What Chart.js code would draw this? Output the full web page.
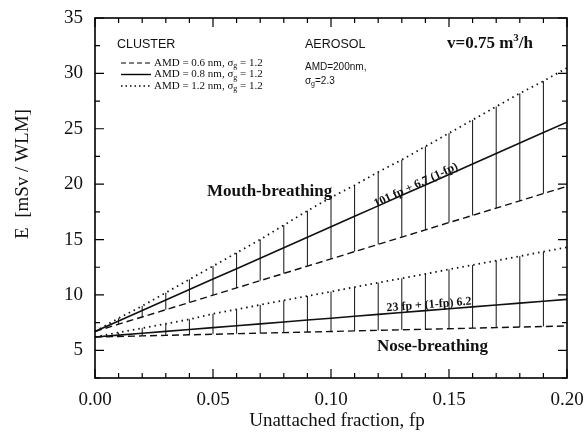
<!DOCTYPE html>
<html>
<head>
<meta charset="utf-8">
<script src="https://cdn.jsdelivr.net/npm/chart.js@4.4.0/dist/chart.umd.min.js"></script>
<style>
  html, body { margin: 0; padding: 0; background: #fff; }
  #wrap { width: 585px; height: 436px; }
</style>
</head>
<body>
<div id="wrap"><canvas id="chart"></canvas></div>
<script>
// unattached fraction fp, steps of 0.01
const fp = [0.00, 0.01, 0.02, 0.03, 0.04, 0.05, 0.06, 0.07, 0.08, 0.09, 0.10,
            0.11, 0.12, 0.13, 0.14, 0.15, 0.16, 0.17, 0.18, 0.19, 0.20];

// mouth-breathing, E in mSv/WLM
const mouthDashed = [6.70, 7.36, 8.01, 8.67, 9.32, 9.98, 10.63, 11.29, 11.94, 12.60, 13.25,
                     13.91, 14.56, 15.22, 15.87, 16.53, 17.18, 17.84, 18.49, 19.15, 19.80];
const mouthSolid  = [6.70, 7.65, 8.59, 9.54, 10.48, 11.43, 12.37, 13.32, 14.26, 15.21, 16.15,
                     17.10, 18.04, 18.99, 19.93, 20.88, 21.82, 22.77, 23.71, 24.66, 25.60];
const mouthDotted = [6.7, 7.9, 9.0, 10.2, 11.4, 12.6, 13.8, 15.0, 16.3, 17.6, 18.8,
                     19.9, 21.1, 22.2, 23.4, 24.6, 25.8, 27.0, 28.2, 29.3, 30.5];

// nose-breathing
const noseDashed = [6.20, 6.25, 6.30, 6.35, 6.40, 6.45, 6.50, 6.55, 6.60, 6.65, 6.70,
                    6.75, 6.80, 6.85, 6.90, 6.95, 7.00, 7.05, 7.10, 7.15, 7.20];
const noseSolid  = [6.20, 6.37, 6.54, 6.71, 6.88, 7.05, 7.22, 7.39, 7.56, 7.73, 7.90,
                    8.07, 8.24, 8.41, 8.58, 8.75, 8.92, 9.09, 9.26, 9.43, 9.60];
const noseDotted = [6.2, 6.6, 7.0, 7.4, 7.8, 8.3, 8.7, 9.1, 9.5, 9.9, 10.3,
                    10.7, 11.1, 11.5, 11.9, 12.3, 12.7, 13.1, 13.5, 13.9, 14.3];

const xTicks = [0.00, 0.05, 0.10, 0.15, 0.20];
const yTicks = [5, 10, 15, 20, 25, 30, 35];

const SERIF = '"Liberation Serif", "DejaVu Serif", serif';
const SANS = '"Liberation Sans", Arial, sans-serif';

function pts(arr) {
    return fp.map((x, i) => ({ x: x, y: arr[i] }));
}

// vertical spread lines between dashed and dotted curves
function spread(lo, hi) {
    const out = [];
    for (let i = 1; i < fp.length - 1; i++) {
        out.push({ x: fp[i], y: lo[i] }, { x: fp[i], y: hi[i] }, { x: fp[i], y: null });
    }
    return out;
}

function lineSet(data, dash, width) {
    return {
        data: data,
        borderColor: '#111',
        borderWidth: width,
        borderDash: dash,
        pointRadius: 0,
        fill: false,
        tension: 0
    };
}

// frame, inward ticks on all four sides, and the text on the plot
const decor = {
    id: 'decor',
    afterDatasetsDraw(chart) {
        const { ctx, chartArea: a, scales: { x, y } } = chart;
        ctx.save();
        ctx.strokeStyle = '#000';
        ctx.lineWidth = 1.6;
        ctx.strokeRect(a.left, a.top, a.right - a.left, a.bottom - a.top);

        ctx.lineWidth = 1.2;
        ctx.beginPath();
        for (let v = 0; v <= 20; v++) {
            const px = x.getPixelForValue(v / 100);
            const len = v % 5 === 0 ? 9 : 5;
            ctx.moveTo(px, a.bottom); ctx.lineTo(px, a.bottom - len);
            ctx.moveTo(px, a.top); ctx.lineTo(px, a.top + len);
        }
        for (let v = 2.5; v <= 35; v += 2.5) {
            const py = y.getPixelForValue(v);
            const len = v % 5 === 0 ? 9 : 5;
            ctx.moveTo(a.left, py); ctx.lineTo(a.left + len, py);
            ctx.moveTo(a.right, py); ctx.lineTo(a.right - len, py);
        }
        ctx.stroke();

        ctx.fillStyle = '#111';
        ctx.textBaseline = 'middle';

        // axis titles
        ctx.textAlign = 'center';
        ctx.font = '19px ' + SERIF;
        ctx.fillText('Unattached fraction, fp', 337, 421);
        ctx.save();
        ctx.translate(23, 174);
        ctx.rotate(-Math.PI / 2);
        ctx.fillText('E  [mSv / WLM]', 0, 0);
        ctx.restore();

        // regime labels
        ctx.font = 'bold 17px ' + SERIF;
        ctx.fillText('Mouth-breathing', x.getPixelForValue(0.074), y.getPixelForValue(19.3));
        ctx.fillText('Nose-breathing', x.getPixelForValue(0.143), y.getPixelForValue(5.3));

        // formulas along the solid lines
        ctx.font = 'bold 12px ' + SERIF;
        ctx.save();
        ctx.translate(x.getPixelForValue(0.136), y.getPixelForValue(19.9));
        ctx.rotate(-25 * Math.PI / 180);
        ctx.fillText('101 fp + 6.7 (1-fp)', 0, 0);
        ctx.restore();
        ctx.save();
        ctx.translate(x.getPixelForValue(0.1415), y.getPixelForValue(9.1));
        ctx.rotate(-4.5 * Math.PI / 180);
        ctx.fillText('23 fp + (1-fp) 6.2', 0, 0);
        ctx.restore();

        // header texts
        ctx.textAlign = 'left';
        ctx.font = '12.5px ' + SANS;
        ctx.fillText('CLUSTER', 117, 45);
        ctx.fillText('AEROSOL', 305, 45);

        ctx.font = '10px ' + SANS;
        ctx.fillText('AMD=200nm,', 305, 67);
        ctx.fillText('\u03c3', 305, 81);
        ctx.font = '7px ' + SANS;
        ctx.fillText('g', 311, 84);
        ctx.font = '10px ' + SANS;
        ctx.fillText('=2.3', 315, 81);

        ctx.font = 'bold 17px ' + SERIF;
        let tx = 447;
        ctx.fillText('v=0.75 m', tx, 44);
        tx += ctx.measureText('v=0.75 m').width;
        ctx.font = 'bold 11px ' + SERIF;
        ctx.fillText('3', tx, 38);
        tx += ctx.measureText('3').width;
        ctx.font = 'bold 17px ' + SERIF;
        ctx.fillText('/h', tx, 44);

        // cluster legend
        const rows = [
            { dash: [5, 3], lw: 1.2, text: 'AMD = 0.6 nm, \u03c3', val: ' = 1.2', y: 63 },
            { dash: [], lw: 1.4, text: 'AMD = 0.8 nm, \u03c3', val: ' = 1.2', y: 74.5 },
            { dash: [1.5, 3], lw: 1.5, text: 'AMD = 1.2 nm, \u03c3', val: ' = 1.2', y: 86 }
        ];
        rows.forEach(r => {
            ctx.setLineDash(r.dash);
            ctx.lineWidth = r.lw;
            ctx.beginPath();
            ctx.moveTo(121, r.y); ctx.lineTo(151, r.y);
            ctx.stroke();
            ctx.setLineDash([]);
            let lx = 154;
            ctx.font = '11px ' + SERIF;
            ctx.fillText(r.text, lx, r.y);
            lx += ctx.measureText(r.text).width;
            ctx.font = '8px ' + SERIF;
            ctx.fillText('g', lx, r.y + 3);
            lx += ctx.measureText('g').width;
            ctx.font = '11px ' + SERIF;
            ctx.fillText(r.val, lx, r.y);
        });
        ctx.restore();
    }
};

new Chart(document.getElementById('chart'), {
    type: 'line',
    data: {
        datasets: [
            lineSet(spread(mouthDashed, mouthDotted), [], 1),
            lineSet(spread(noseDashed, noseDotted), [], 1),
            lineSet(pts(mouthDashed), [7, 4], 1.4),
            lineSet(pts(mouthSolid), [], 1.6),
            lineSet(pts(mouthDotted), [1.5, 4], 1.8),
            lineSet(pts(noseDashed), [7, 4], 1.4),
            lineSet(pts(noseSolid), [], 1.6),
            lineSet(pts(noseDotted), [1.5, 4], 1.8)
        ]
    },
    options: {
        responsive: true,
        maintainAspectRatio: false,
        animation: false,
        layout: { padding: { top: 18, right: 18, left: 0, bottom: 0 } },
        plugins: {
            legend: { display: false },
            tooltip: { enabled: false }
        },
        scales: {
            x: {
                type: 'linear',
                min: 0,
                max: 0.2,
                afterFit: s => { s.height = 58; s.paddingLeft = 0; s.paddingRight = 0; },
                afterBuildTicks: s => { s.ticks = xTicks.map(v => ({ value: v })); },
                grid: { display: false, drawTicks: false },
                border: { display: false },
                ticks: {
                    padding: 11,
                    color: '#111',
                    font: { family: SERIF, size: 19 },
                    callback: v => v.toFixed(2)
                }
            },
            y: {
                type: 'linear',
                min: 2.5,
                max: 35,
                afterFit: s => { s.width = 95; s.paddingTop = 0; s.paddingBottom = 0; },
                afterBuildTicks: s => { s.ticks = yTicks.map(v => ({ value: v })); },
                grid: { display: false, drawTicks: false },
                border: { display: false },
                ticks: {
                    padding: 12,
                    color: '#111',
                    font: { family: SERIF, size: 19 },
                    callback: v => String(v)
                }
            }
        }
    },
    plugins: [decor]
});
</script>
</body>
</html>
